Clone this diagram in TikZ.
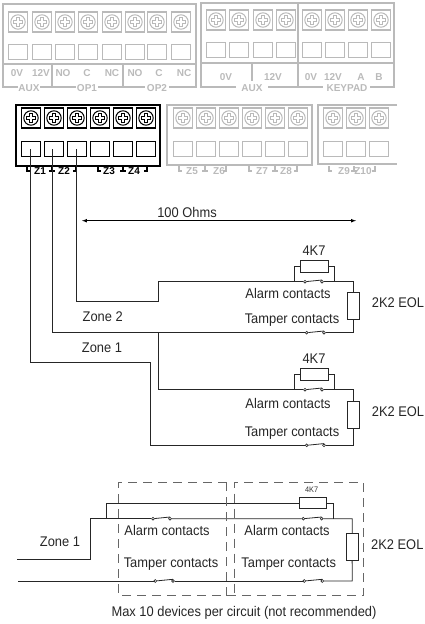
\documentclass[tikz,border=0pt]{standalone}
\usepackage{fontspec}
\setmainfont{Liberation Sans}
\newfontfamily\capfont[FakeStretch=0.92]{Liberation Sans}
\tikzset{
    x=1pt,y=-1pt,
    wire/.style={draw=black!85,line width=0.8pt},
    part/.style={draw=black!85,line width=0.8pt,fill=white,inner sep=0pt},
    contactpin/.style={circle,draw=black!85,line width=0.6pt,fill=white,inner sep=0pt,minimum size=2.8pt},
    caption/.style={font=\capfont\fontsize{14}{15}\selectfont,text=black!85,inner sep=0pt},
    blockline/.style={draw=#1,line width=1.1pt},
    screwbox/.style={draw=#1,line width=1.5pt,minimum width=19pt,minimum height=20pt,inner sep=0pt,
        path picture={
            \draw[#1,line width=1pt] (path picture bounding box.center) circle (7.2pt);
            \draw[#1,line width=3.6pt] ([xshift=-5pt]path picture bounding box.center) -- ([xshift=5pt]path picture bounding box.center);
            \draw[#1,line width=3.6pt] ([yshift=-5pt]path picture bounding box.center) -- ([yshift=5pt]path picture bounding box.center);
            \draw[white,line width=1.9pt] ([xshift=-4.2pt]path picture bounding box.center) -- ([xshift=4.2pt]path picture bounding box.center);
            \draw[white,line width=1.9pt] ([yshift=-4.2pt]path picture bounding box.center) -- ([yshift=4.2pt]path picture bounding box.center);
        }},
    wirebox/.style={draw=#1,line width=1.1pt,minimum width=19pt,minimum height=15.5pt,inner sep=0pt},
    termlabel/.style={font=\fontsize{10}{11}\selectfont\bfseries,text=#1,inner sep=0pt},
}
\colorlet{faded}{black!27}
\begin{document}
\begin{tikzpicture}
    \useasboundingbox (0,0) rectangle (424,624);
    % faded terminal blocks
    \draw[blockline=faded] (18,87) -- (3,87) -- (3,4) -- (196,4) -- (196,87) -- (169,87);
    \draw[blockline=faded] (3,64) -- (196,64);
    \draw[blockline=faded] (52,64) -- (52,87) (123,64) -- (123,87);
    \draw[blockline=faded] (40,87) -- (76,87) (98,87) -- (145,87);
    \draw[blockline=faded] (236,87) -- (201,87) -- (201,3) -- (394,3) -- (394,87) -- (370,87);
    \draw[blockline=faded] (201,63) -- (394,63) (298,3) -- (298,87) (252,63) -- (252,81);
    \draw[blockline=faded] (268,87) -- (323,87);
    \draw[blockline=faded] (167,105) rectangle (312,165);
    \draw[blockline=faded] (397,105) -- (318,105) -- (318,164) -- (397,164);
    \draw[black,line width=1.4pt] (16,105) rectangle (160,166);
    \foreach \x in {18,42,65,88,112,135,157,181} {
        \node[screwbox=faded] (top\x) at (\x,22) {};
        \node[wirebox=faded] (topbox\x) at (\x,52) {};
    }
    \foreach \x in {216,239,263,286,312,335,358,381} {
        \node[screwbox=faded] (aux\x) at (\x,20) {};
        \node[wirebox=faded] (auxbox\x) at (\x,50) {};
    }
    \foreach \x in {183,206,229,252,275,298,333,356,379} {
        \node[screwbox=faded] (zone\x) at (\x,118) {};
        \node[wirebox=faded] (zonebox\x) at (\x,149) {};
    }
    \foreach \x in {31,54,77,100,123,146} {
        \node[screwbox=black] (main\x) at (\x,118) {};
        \node[wirebox=black] (mainbox\x) at (\x,149) {};
    }
    % terminal names
    \foreach \x/\y/\name in {17/73/0V,41/73/12V,63/73/NO,87/73/C,112/73/NC,135/73/NO,159/73/C,184/73/NC,
        29/88/AUX,87/88/OP1,157/88/OP2,226/77/0V,273/77/12V,311/77/0V,333/77/12V,361/77/A,379/77/B,
        252/88/AUX,347/88/KEYPAD,192/171/Z5,219/171/Z6,262/171/Z7,286/171/Z8,344/171/Z9,363/171/Z10}
        \node[termlabel=faded] (lab\x) at (\x,\y) {\name};
    \foreach \x/\name in {40/Z1,64/Z2,109/Z3,134/Z4}
        \node[termlabel=black] (lab\x) at (\x,171) {\name};
    % brackets under the terminals
    \foreach \a/\b/\c/\col in {27/52/76/black,98/123/147/black,179/205/226/faded,249/275/297/faded,329/354/375/faded} {
        \draw[blockline=\col] (\a,166) -- (\a,171) -- (\a+3,171);
        \draw[blockline=\col] (\b,166) -- (\b,171) (\b-3,171) -- (\b+3,171);
        \draw[blockline=\col] (\c,166) -- (\c,171) -- (\c-3,171);
    }
    % contacts
    \foreach \n/\xa/\xb/\y in {sa/305/322/281.7,sb/306.7/324/332.7,sc/305/322/389.7,sd/306.7/324/445.3,
        se/153/170/518.7,sf/303.3/321.7/518.7,sg/155.3/173/581,sh/304.3/322.3/581} {
        \node[contactpin] (\n l) at (\xa,\y) {};
        \node[contactpin] (\n r) at (\xb,\y) {};
        \draw[wire] (\n l) -- (\n r.north);
    }
    % resistors
    \node[part,minimum width=28pt,minimum height=12pt] (ra) at (314,266) {};
    \node[part,minimum width=28pt,minimum height=12pt] (rb) at (314,374) {};
    \node[part,minimum width=27pt,minimum height=11pt] (rc) at (312.7,503) {};
    \node[part,minimum width=12pt,minimum height=27pt] (ea) at (353,305.5) {};
    \node[part,minimum width=12pt,minimum height=27pt] (eb) at (353,415.3) {};
    \node[part,minimum width=12pt,minimum height=27pt] (ec) at (352,546.7) {};
    % first circuit
    \coordinate (z2top) at (76,149);
    \coordinate (z2step) at (158,301);
    \coordinate (ta) at (294.3,281.7);
    \coordinate (tb) at (334,281.7);
    \coordinate (tc) at (353,281.7);
    \coordinate (td) at (353,332.7);
    \draw[wire] (z2top) |- (z2step) |- (sal);
    \draw[wire] (sar) -- (tc) -- (ea) -- (td) -- (sbr);
    \draw[wire] (ta) |- (ra);
    \draw[wire] (tb) |- (ra);
    % second circuit
    \coordinate (z1top) at (52.5,149);
    \coordinate (branch) at (158,332.7);
    \coordinate (tba) at (294.3,389.7);
    \coordinate (tbb) at (334,389.7);
    \coordinate (tbc) at (353,389.7);
    \coordinate (tbd) at (353,445.3);
    \coordinate (zeroa) at (30,149);
    \coordinate (zerob) at (150,362);
    \draw[wire] (z1top) |- (sbl);
    \draw[wire] (branch) |- (scl);
    \draw[wire] (scr) -- (tbc) -- (eb) -- (tbd) -- (sdr);
    \draw[wire] (tba) |- (rb);
    \draw[wire] (tbb) |- (rb);
    \draw[wire] (zeroa) |- (zerob) |- (sdl);
    % third circuit
    \coordinate (inl) at (17,559.7);
    \coordinate (inb) at (90.7,559.7);
    \coordinate (inc) at (90.7,518.7);
    \coordinate (loopl) at (106.7,518.7);
    \coordinate (loopr) at (333,518.7);
    \coordinate (outa) at (352.3,518.7);
    \coordinate (outb) at (352.3,581);
    \coordinate (retl) at (18,581);
    \draw[wire] (inl) -- (inb) -- (inc) -- (sel);
    \draw[wire] (ser) -- (sfl) (sfr) -- (outa) -- (ec) -- (outb) -- (shr);
    \draw[wire] (retl) -- (sgl) (sgr) -- (shl);
    \draw[wire] (loopl) |- (rc);
    \draw[wire] (loopr) |- (rc);
    % dashed devices
    \draw[draw=black!60,line width=0.9pt,dash pattern=on 9pt off 6pt]
        (226.7,482) -- (118.7,482) -- (118.7,595.7) -- (363,595.7) -- (363,482) -- (234.3,482) -- (234.3,595.7);
    \draw[draw=black!60,line width=0.9pt,dash pattern=on 9pt off 6pt] (226.7,482) -- (226.7,595.7);
    % 100 ohm run
    \coordinate (runl) at (82,220.7);
    \coordinate (runr) at (356,220.7);
    \draw[<->,>=latex,line width=0.7pt] (runl) -- (runr);
    \node[caption] (ohms) at (187,212) {100 Ohms};
    % captions
    \node[caption] (va) at (314,250.7) {4K7};
    \node[caption] (vb) at (314,359) {4K7};
    \node[font=\capfont\fontsize{8}{9}\selectfont,inner sep=0pt,text=black!80] (vc) at (311.7,489.7) {4K7};
    \node[caption] (aa) at (288,293.7) {Alarm contacts};
    \node[caption] (pa) at (292,320) {Tamper contacts};
    \node[caption] (ab) at (288,403) {Alarm contacts};
    \node[caption] (pb) at (292,432.7) {Tamper contacts};
    \node[caption] (ac) at (167,530) {Alarm contacts};
    \node[caption] (ad) at (287,530) {Alarm contacts};
    \node[caption] (pc) at (171,564) {Tamper contacts};
    \node[caption] (pd) at (288.7,564) {Tamper contacts};
    \node[caption] (ela) at (398,303) {2K2 EOL};
    \node[caption] (elb) at (398,412) {2K2 EOL};
    \node[caption] (elc) at (397.3,545) {2K2 EOL};
    \node[caption] (zb) at (102.7,317) {Zone 2};
    \node[caption] (za) at (102,348) {Zone 1};
    \node[caption] (zc) at (60,542) {Zone 1};
    \node[caption] (maxdev) at (244,613) {Max 10 devices per circuit (not recommended)};
\end{tikzpicture}
\end{document}
